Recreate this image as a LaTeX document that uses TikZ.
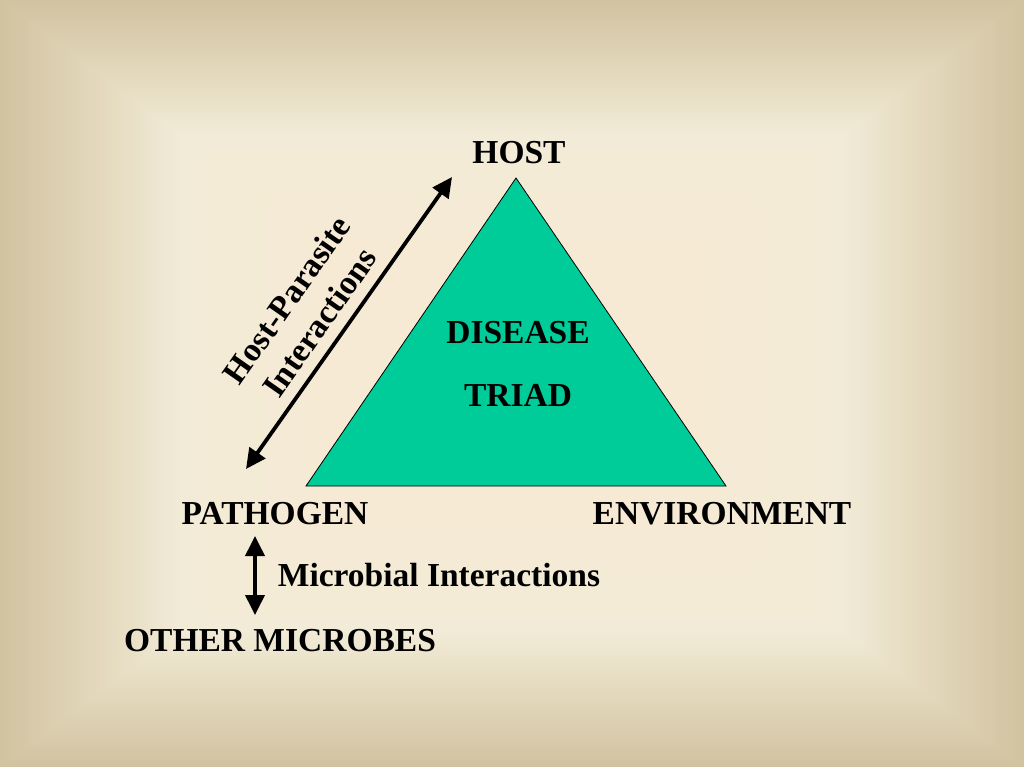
\documentclass[tikz,border=0pt]{standalone}
\usepackage{fontspec}
\setmainfont{Liberation Serif}
\usetikzlibrary{arrows.meta}
\definecolor{edgetan}{RGB}{210,195,160}
\definecolor{innercream}{RGB}{242,235,215}
\definecolor{centerpeach}{RGB}{246,234,212}
\definecolor{triad}{RGB}{0,204,153}
\tikzset{
  lbl/.style={font=\bfseries\fontsize{33.5}{40}\selectfont, text=black, inner sep=0pt, align=center},
  dbl/.style={line width=3.8pt, {Triangle[length=20pt,width=19pt]}-{Triangle[length=20pt,width=19pt]}},
}
\begin{document}
\begin{tikzpicture}[x=1pt,y=-1pt]
\useasboundingbox (0,0) rectangle (1024,767);
% background box gradient
\foreach \i in {0,...,45}{
  \pgfmathsetmacro{\p}{100*\i/45}
  \colorlet{bgc}{innercream!\p!edgetan}
  \fill[bgc] (4*\i,3*\i) rectangle (1024-4*\i,767-3*\i);
}
\foreach \i in {0,...,20}{
  \pgfmathsetmacro{\p}{100*\i/20}
  \colorlet{bgc}{centerpeach!\p!innercream}
  \fill[bgc] (180+7.5*\i,135+5.6*\i) rectangle (844-7.5*\i,632-5.6*\i);
}
% triangle
\filldraw[fill=triad, draw=black, line width=0.8pt] (516,178) -- (306,486) -- (726,486) -- cycle;
% labels
\node[lbl] (host) at (519,153) {HOST};
\node[lbl] (pathogen) at (275,514) {PATHOGEN};
\node[lbl] (env) at (722,514) {ENVIRONMENT};
\node[lbl] (micro) at (439,575) {Microbial Interactions};
\node[lbl] (other) at (280,641) {OTHER MICROBES};
\node[lbl] (disease) at (518,333) {DISEASE};
\node[lbl] (triadlbl) at (518,395) {TRIAD};
\node[lbl, rotate=55] (hp) at (303,311) {Host-Parasite\\Interactions};
% connectors
\coordinate (hpA) at (246,469);
\coordinate (hpB) at (452,177);
\coordinate (mA) at (255,536);
\coordinate (mB) at (255,615);
\draw[dbl] (hpA) -- (hpB);
\draw[dbl] (mA) -- (mB);
\end{tikzpicture}
\end{document}
